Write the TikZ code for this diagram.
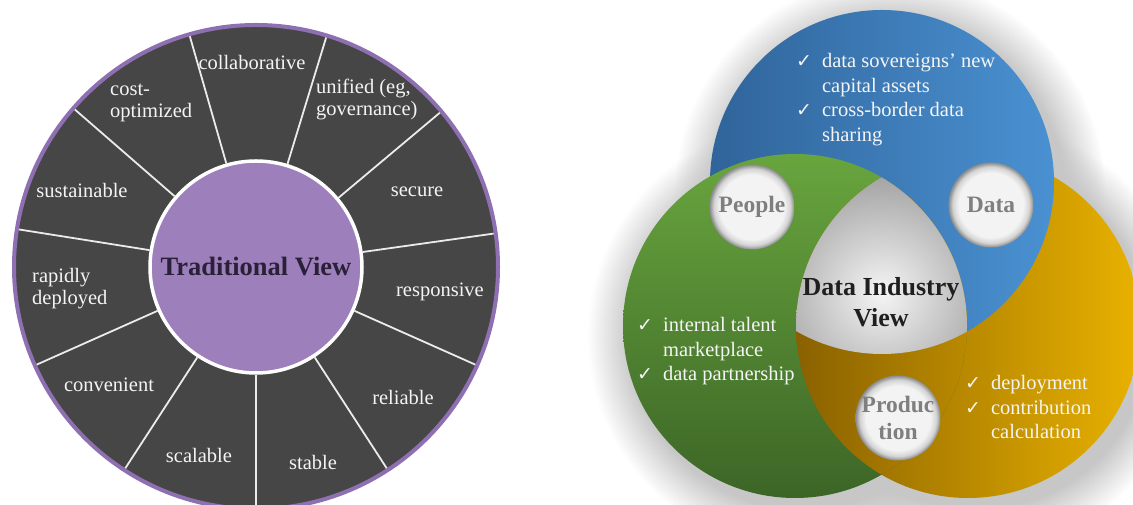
\documentclass[tikz,border=0pt]{standalone}
\usepackage{fontspec}
\setmainfont{Liberation Serif}
\newfontfamily\tickfont{DejaVu Sans}
\usetikzlibrary{positioning,shadows,fadings}
\definecolor{wheelgray}{HTML}{464646}
\definecolor{rimpurple}{HTML}{8E70B2}
\definecolor{hubpurple}{HTML}{9D7FBB}
\definecolor{hubtext}{HTML}{2A2038}
\definecolor{labelwhite}{HTML}{F4F4F4}
\definecolor{bluedark}{HTML}{30649A}
\definecolor{bluelight}{HTML}{4A91D2}
\definecolor{greenlight}{HTML}{68A53E}
\definecolor{greendark}{HTML}{3C6526}
\definecolor{golddark}{HTML}{8A6100}
\definecolor{goldlight}{HTML}{E9B200}
\definecolor{badgecore}{HTML}{F3F3F3}
\definecolor{badgerim}{HTML}{8A8A8A}
\definecolor{badgetext}{HTML}{7F7F7F}
\pgfdeclareradialshading{badge glow}{\pgfpoint{0bp}{0bp}}{color(0bp)=(badgecore); color(19bp)=(badgecore); color(22.5bp)=(badgecore!70!badgerim); color(25bp)=(badgerim); color(50bp)=(badgerim)}
\newcommand{\okmark}{{\tickfont\fontsize{19}{19}\selectfont\char"2713}}
\tikzset{
    rim/.style={circle, draw=rimpurple, line width=4pt, fill=wheelgray, minimum size=484pt, inner sep=0pt, outer sep=0pt},
    hub/.style={circle, draw=white, line width=3.5pt, fill=hubpurple, minimum size=212pt, inner sep=0pt, text=hubtext, font=\bfseries\fontsize{26.5}{30}\selectfont},
    spoke/.style={draw=white!92!black, line width=1.8pt, shorten >=2pt},
    quality/.style={text=labelwhite, font=\fontsize{20.5}{22}\selectfont, align=left, inner sep=0pt},
    venn shadow/.style={fill=black!22, path fading=circle with fuzzy edge 20 percent},
    badge/.style={circle, shade, shading=badge glow, minimum size=85pt, inner sep=0pt, align=center, text=badgetext, font=\bfseries\fontsize{23.5}{27}\selectfont},
    core text/.style={align=center, text=black!88, font=\bfseries\fontsize{26}{31}\selectfont},
    tick list/.style={text=labelwhite, inner sep=0pt, font=\fontsize{20.5}{24.5}\selectfont}
}
\begin{document}
\begin{tikzpicture}[x=1pt,y=1pt]
    \useasboundingbox (0,0) rectangle (1133,505);
    \fill[white] (0,0) rectangle (1133,505);

    % traditional view wheel
    \node[rim] (wheel) at (256,238) {};
    \node[hub] (hub) at (wheel.center) {Traditional View};
    \foreach \k in {0,...,10}{
        \pgfmathsetmacro\a{-90+\k*360/11}
        \draw[spoke] (hub.\a) -- (wheel.\a);
    }
    \node[quality] (collab) at (252,443) {collaborative};
    \node[quality, anchor=west] (unified) at (316,405) {unified (eg,\\governance)};
    \node[quality] (secure) at (417,313) {secure};
    \node[quality] (responsive) at (440,213) {responsive};
    \node[quality] (reliable) at (403,108) {reliable};
    \node[quality] (stable) at (313,43) {stable};
    \node[quality] (scalable) at (199,50) {scalable};
    \node[quality] (convenient) at (109,120) {convenient};
    \node[quality, anchor=west] (rapid) at (32,216.5) {rapidly\\deployed};
    \node[quality] (sustain) at (82,315) {sustainable};
    \node[quality, anchor=west] (costopt) at (110,402.5) {cost-\\optimized};

    % data industry view
    \coordinate (blue c) at (882,323);
    \coordinate (green c) at (795,179);
    \coordinate (yellow c) at (968,179);
    \foreach \c in {blue c, green c, yellow c}
        \fill[venn shadow] ([shift={(8,-10)}]\c) circle[radius=215pt];
    \shade[left color=golddark, right color=goldlight] (yellow c) circle[radius=172pt];
    \shade[left color=bluedark, right color=bluelight] (blue c) circle[radius=172pt];
    \shade[top color=greenlight, bottom color=greendark] (green c) circle[radius=172pt];
    \begin{scope}
        \clip (green c) circle[radius=172pt];
        \shade[left color=golddark, right color=goldlight] (yellow c) circle[radius=172pt];
        \clip (blue c) circle[radius=172pt];
        \clip (yellow c) circle[radius=172pt];
        \shade[inner color=white!96!black, outer color=black!38] (882,212) circle[radius=125pt];
    \end{scope}

    \node[core text] (core) at (881,203) {Data Industry\\View};
    \node[badge] (people) at (752,298) {People};
    \node[badge] (data) at (991,300) {Data};
    \node[badge] (production) at (898,87) {Produc\\tion};

    \node[tick list, anchor=base west] (data list) at (796,437)
        {\begin{tabular}[t]{@{}l@{\hspace{10pt}}l@{}}\okmark & data sovereigns’ new\\ & capital assets\\ \okmark & cross-border data\\ & sharing\end{tabular}};
    \node[tick list, anchor=base west] (people list) at (637,173)
        {\begin{tabular}[t]{@{}l@{\hspace{10pt}}l@{}}\okmark & internal talent\\ & marketplace\\ \okmark & data partnership\end{tabular}};
    \node[tick list, anchor=base west] (production list) at (965,115)
        {\begin{tabular}[t]{@{}l@{\hspace{10pt}}l@{}}\okmark & deployment\\ \okmark & contribution\\ & calculation\end{tabular}};
\end{tikzpicture}
\end{document}
